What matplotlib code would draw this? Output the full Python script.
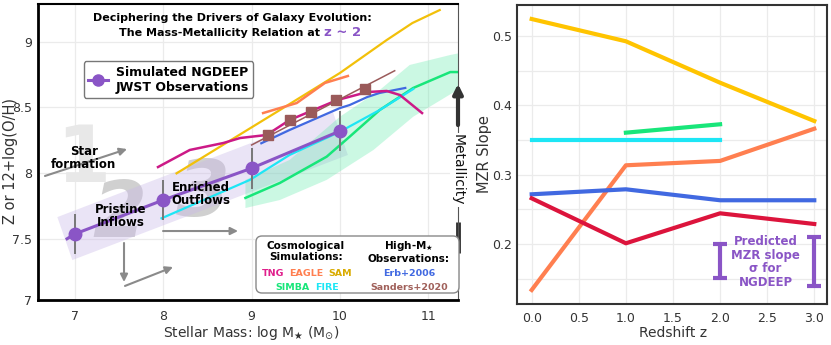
import matplotlib

matplotlib.use("Agg")
import matplotlib.pyplot as plt
from matplotlib.lines import Line2D
from matplotlib.patches import FancyBboxPatch, Polygon
from matplotlib.ticker import MultipleLocator

# --- left panel: mass-metallicity relation at z ~ 2 ---
NGDEEP_MASS = [7, 8, 9, 10]
NGDEEP_Z = [7.537, 7.795, 8.037, 8.320]
NGDEEP_ERR = [0.155, 0.155, 0.155, 0.155]
NGDEEP_LINE_MASS = [6.91, 7, 8, 9, 10]
NGDEEP_LINE_Z = [7.50, 7.537, 7.795, 8.037, 8.320]
NGDEEP_BAND_MASS = [6.80, 9.92, 10.09, 6.97]
NGDEEP_BAND_Z = [7.665, 8.467, 8.138, 7.338]

TNG_MASS = [7.94, 8.30, 8.68, 8.87, 9.17, 9.43, 9.97, 10.31, 10.53, 10.68, 10.93]
TNG_Z = [8.046, 8.176, 8.229, 8.267, 8.290, 8.404, 8.556, 8.617, 8.625, 8.594, 8.457]

EAGLE_MASS = [9.13, 9.51, 9.83, 10.09]
EAGLE_Z = [8.457, 8.533, 8.686, 8.739]

SAM_MASS = [8.15, 9.32, 10.0, 10.53, 10.82, 11.13]
SAM_Z = [7.998, 8.480, 8.762, 9.013, 9.142, 9.241]

SIMBA_MASS = [8.93, 9.32, 9.85, 10.11, 10.45, 10.83, 11.25, 11.36]
SIMBA_Z = [7.811, 7.925, 8.125, 8.277, 8.480, 8.648, 8.769, 8.769]
SIMBA_HI_MASS = [8.93, 9.43, 10.0, 10.45, 10.79, 11.25, 11.36]
SIMBA_HI_Z = [7.948, 8.100, 8.429, 8.632, 8.823, 8.899, 8.914]
SIMBA_LO_MASS = [8.93, 9.32, 9.85, 10.38, 10.83, 11.33, 11.36]
SIMBA_LO_Z = [7.734, 7.795, 7.948, 8.176, 8.429, 8.632, 8.640]

FIRE_MASS = [7.98, 8.98, 9.43, 10.0, 10.45, 10.83]
FIRE_Z = [7.656, 7.948, 8.138, 8.315, 8.480, 8.640]

ERB_MASS = [9.11, 9.43, 10.0, 10.11, 10.31, 10.45, 10.74]
ERB_Z = [8.227, 8.328, 8.495, 8.518, 8.579, 8.610, 8.648]

SANDERS_FIT_MASS = [9.0, 10.62]
SANDERS_FIT_Z = [8.214, 8.779]
SANDERS_MASS = [9.19, 9.43, 9.67, 9.96, 10.28]
SANDERS_Z = [8.290, 8.404, 8.467, 8.556, 8.640]

MASS_TICKS = [7, 8, 9, 10, 11]
Z_TICKS = [7.5, 8, 8.5, 9]

# --- right panel: MZR slope vs redshift ---
REDSHIFT = [0, 1, 2, 3]
SLOPE_SAM = [0.5245, 0.4924, 0.4327, 0.3775]
SLOPE_EAGLE = [0.134, 0.3137, 0.320, 0.3664]
SLOPE_ERB = [0.2719, 0.2791, 0.2633, 0.2633]
SLOPE_TNG = [0.2661, 0.2013, 0.2445, 0.2291]
SLOPE_FIRE_Z = [0, 1, 2]
SLOPE_FIRE = [0.3497, 0.3497, 0.3497]
SLOPE_SIMBA_Z = [1, 2]
SLOPE_SIMBA = [0.3607, 0.3728]
SIGMA_Z = [2, 3]
SIGMA_LO = [0.151, 0.140]
SIGMA_HI = [0.200, 0.210]

PURPLE = "#8a55c6"
C_TNG = "#cc1a87"
C_TNG_R = "#dc143c"
C_EAGLE = "#ff7f50"
C_SAM = "#f2c00a"
C_SIMBA = "#18e67a"
C_FIRE = "#1de6f5"
C_ERB = "#4169e1"
C_SANDERS = "#9a5a5a"
GRID = "#ebebeb"
TXT = "#333333"

W, H = 831, 345


def fxy(px, py):
    return px / W, 1 - py / H


fig = plt.figure(figsize=(W / 100, H / 100), dpi=100)
ax = fig.add_axes([38 / W, 1 - 300 / H, 420 / W, 296 / H])
ax2 = fig.add_axes([517 / W, 1 - 304 / H, 310 / W, 299 / H])

# ---------------- left panel ----------------
ax.set_xlim(6.581, 11.337)
ax.set_ylim(7.034, 9.287)
ax.set_xticks(MASS_TICKS)
ax.set_yticks([7.034] + Z_TICKS)
ax.set_yticklabels(["7"] + [f"{t:g}" for t in Z_TICKS])
ax.grid(True, color=GRID, lw=0.9)
ax.set_axisbelow(True)
ax.tick_params(length=0, labelsize=9, labelcolor=TXT)
ax.tick_params(axis="x", pad=7)
ax.tick_params(axis="y", pad=4)
ax.spines["left"].set_linewidth(2)
ax.spines["bottom"].set_linewidth(2)
ax.spines["top"].set_linewidth(1.5)
ax.spines["right"].set_linewidth(0.8)
ax.spines["right"].set_color("#555555")

# giant step numbers in the background
ax.text(7.09, 8.10, "1", fontsize=56, fontweight="bold", color="#e8e8e8",
        ha="center", va="center", zorder=0.6)
ax.text(7.50, 7.68, "2", fontsize=56, fontweight="bold", style="italic",
        color="#d0d0d0", ha="center", va="center", zorder=0.6)
ax.text(8.45, 7.84, "3", fontsize=56, fontweight="bold", style="italic",
        color="#d0d0d0", ha="center", va="center", zorder=0.6)

ax.add_patch(Polygon(list(zip(NGDEEP_BAND_MASS, NGDEEP_BAND_Z)), closed=True,
                     facecolor="#c9b8e8", alpha=0.38, lw=0, zorder=1))
simba_band = list(zip(SIMBA_HI_MASS, SIMBA_HI_Z)) + list(zip(SIMBA_LO_MASS, SIMBA_LO_Z))[::-1]
ax.add_patch(Polygon(simba_band, closed=True, facecolor="#55eaa5", alpha=0.3,
                     lw=0, zorder=1))

ax.plot(SAM_MASS, SAM_Z, color=C_SAM, lw=1.6, zorder=2)
ax.plot(EAGLE_MASS, EAGLE_Z, color=C_EAGLE, lw=1.8, zorder=2)
ax.plot(TNG_MASS, TNG_Z, color=C_TNG, lw=1.8, zorder=2.1)
ax.plot(ERB_MASS, ERB_Z, color=C_ERB, lw=1.6, zorder=2)
ax.plot(SIMBA_MASS, SIMBA_Z, color=C_SIMBA, lw=1.8, zorder=2)
ax.plot(FIRE_MASS, FIRE_Z, color=C_FIRE, lw=1.6, zorder=2)
ax.plot(SANDERS_FIT_MASS, SANDERS_FIT_Z, color=C_SANDERS, lw=1.1, zorder=2.2)
ax.plot(SANDERS_MASS, SANDERS_Z, ls="none", marker="s", ms=7, color=C_SANDERS,
        zorder=2.3)

ax.errorbar(NGDEEP_MASS, NGDEEP_Z, yerr=NGDEEP_ERR, fmt="none", ecolor="#777777",
            elinewidth=1.4, zorder=2.4)
ax.plot(NGDEEP_LINE_MASS, NGDEEP_LINE_Z, color=PURPLE, lw=2.2, zorder=2.5)
ax.plot(NGDEEP_MASS, NGDEEP_Z, ls="none", marker="o", ms=9, color=PURPLE, zorder=2.6)

arrow_kw = dict(arrowstyle="-|>", color="#8a8a8a", lw=1.5, mutation_scale=11,
                shrinkA=0, shrinkB=0)
for tail, tip in [((6.66, 7.978), (7.589, 8.183)),
                  ((7.555, 7.468), (7.555, 7.171)),
                  ((7.566, 7.141), (8.11, 7.285)),
                  ((7.997, 7.559), (8.846, 7.559))]:
    ax.annotate("", xy=tip, xytext=tail, arrowprops=arrow_kw, zorder=1.5)

note_kw = dict(fontsize=8.5, fontweight="bold", ha="center", va="center",
               linespacing=1.05, zorder=3)
ax.text(7.10, 8.115, "Star\nformation", **note_kw)
ax.text(7.52, 7.673, "Pristine\nInflows", **note_kw)
ax.text(8.43, 7.841, "Enriched\nOutflows", **note_kw)

handle = Line2D([], [], color=PURPLE, lw=2.2, marker="o", ms=8)
leg = ax.legend([handle], ["Simulated NGDEEP\nJWST Observations"], loc="upper left",
                bbox_to_anchor=(0.1095, 0.807), borderaxespad=0,
                prop={"weight": "bold", "size": 9}, fancybox=True, framealpha=1,
                edgecolor="#777777", handlelength=1.6, handletextpad=0.6,
                borderpad=0.35)
leg.get_frame().set_linewidth(1.0)

# metallicity arrow along the right edge
ax.annotate("", xy=(1.0, 0.730), xytext=(1.0, 0.591), xycoords="axes fraction",
            arrowprops=dict(arrowstyle="-|>", color="#333333", lw=3,
                            mutation_scale=14, shrinkA=0, shrinkB=0))
ax.plot([1.0, 1.0], [0.159, 0.2635], transform=ax.transAxes, color="#333333",
        lw=3.5, solid_capstyle="butt", clip_on=False)
ax.text(1.0, 0.439, "Metallicity", transform=ax.transAxes, rotation=270,
        ha="center", va="center", fontsize=10, color="#111111",
        bbox=dict(facecolor="white", edgecolor="none", pad=1))

ax.set_xlabel(r"Stellar Mass: log M$_{\bigstar}$ (M$_{\odot}$)", fontsize=10, color=TXT)
ax.xaxis.set_label_coords(0.507, -0.081)
ax.set_ylabel("Z or 12+log(O/H)", fontsize=10.5, color=TXT)
ax.yaxis.set_label_coords(-0.048, 0.47)

# title
fig.text(*fxy(232, 21), "Deciphering the Drivers of Galaxy Evolution:", ha="center",
         va="baseline", fontsize=8, fontweight="bold")
fig.text(*fxy(320, 36), "The Mass-Metallicity Relation at", ha="right", va="baseline",
         fontsize=8, fontweight="bold")
fig.text(*fxy(324, 36), "z ~ 2", ha="left", va="baseline", fontsize=9.5,
         fontweight="bold", color=PURPLE)

# source box
fig.add_artist(FancyBboxPatch((2.56, (H - 293) / 100), 2.03, 0.57,
                              boxstyle="round,pad=0,rounding_size=0.06",
                              transform=fig.dpi_scale_trans, facecolor="white",
                              edgecolor="#888888", lw=1))
box_kw = dict(ha="center", va="center", fontsize=7.5, fontweight="bold")
fig.text(*fxy(306, 251.5), "Cosmological\nSimulations:", linespacing=1.1, **box_kw)
fig.text(*fxy(409, 251.5), "High-M$_{\\bigstar}$\nObservations:", linespacing=1.1, **box_kw)
word_kw = dict(ha="center", va="center", fontsize=6.8, fontweight="bold")
for label, color, px, py in [("TNG", "#e0208c", 273, 274), ("EAGLE", C_EAGLE, 306, 274),
                             ("SAM", "#d9ab00", 340, 274), ("SIMBA", C_SIMBA, 293, 287),
                             ("FIRE", C_FIRE, 327, 287), ("Erb+2006", C_ERB, 409, 274),
                             ("Sanders+2020", "#a0605a", 409, 287)]:
    fig.text(*fxy(px, py), label, color=color, **word_kw)

# ---------------- right panel ----------------
ax2.set_xlim(-0.156, 3.135)
ax2.set_ylim(0.1138, 0.5447)
ax2.xaxis.set_major_locator(MultipleLocator(0.5))
ax2.xaxis.set_major_formatter("{x:.1f}")
ax2.yaxis.set_major_locator(MultipleLocator(0.1))
ax2.yaxis.set_minor_locator(MultipleLocator(0.05))
ax2.yaxis.set_major_formatter("{x:.1f}")
ax2.grid(True, which="both", color=GRID, lw=0.9)
ax2.set_axisbelow(True)
ax2.tick_params(which="both", length=0, labelsize=9, labelcolor=TXT)
ax2.tick_params(axis="x", pad=6)
for sp in ax2.spines.values():
    sp.set_color("#333333")
    sp.set_linewidth(1.5)

ax2.plot(REDSHIFT, SLOPE_SAM, color="#ffc400", lw=3)
ax2.plot(SLOPE_SIMBA_Z, SLOPE_SIMBA, color=C_SIMBA, lw=3)
ax2.plot(SLOPE_FIRE_Z, SLOPE_FIRE, color=C_FIRE, lw=3)
ax2.plot(REDSHIFT, SLOPE_EAGLE, color=C_EAGLE, lw=3)
ax2.plot(REDSHIFT, SLOPE_ERB, color=C_ERB, lw=3)
ax2.plot(REDSHIFT, SLOPE_TNG, color=C_TNG_R, lw=3)

mid = [(lo + hi) / 2 for lo, hi in zip(SIGMA_LO, SIGMA_HI)]
half = [(hi - lo) / 2 for lo, hi in zip(SIGMA_LO, SIGMA_HI)]
ax2.errorbar(SIGMA_Z, mid, yerr=half, fmt="none", ecolor=PURPLE, elinewidth=3,
             capsize=5, capthick=3)
ax2.text(2.484, 0.1744, "Predicted\nMZR slope\n\u03c3 for\nNGDEEP", color=PURPLE,
         fontsize=8.5, fontweight="bold", ha="center", va="center", linespacing=1.05)

ax2.set_xlabel("Redshift z", fontsize=10, color=TXT)
ax2.xaxis.set_label_coords(0.503, -0.074)
ax2.set_ylabel("MZR Slope", fontsize=10.5, color=TXT)
ax2.yaxis.set_label_coords(-0.081, 0.5)

fig.savefig("out.png", dpi=100)
plt.close(fig)
